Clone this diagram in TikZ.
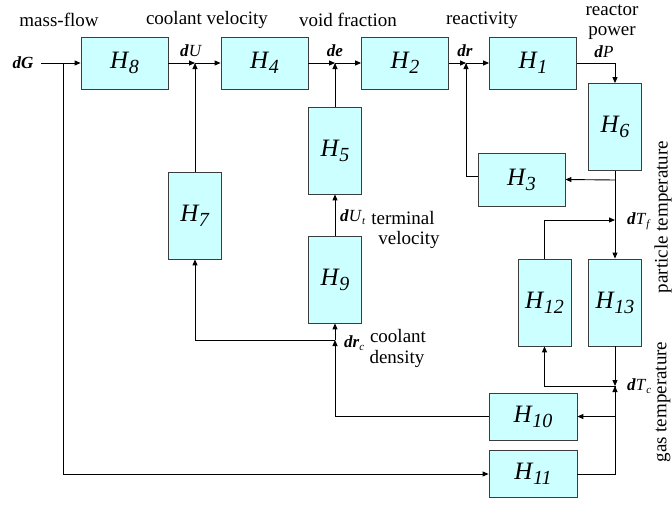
\documentclass[tikz,border=0pt]{standalone}
\usepackage{fontspec}
\setmainfont{Liberation Serif}
\usetikzlibrary{arrows.meta}
\definecolor{boxfill}{RGB}{204,255,255}
\definecolor{boxline}{RGB}{60,60,60}
\newcommand{\Hlab}[1]{{\fontsize{25}{25}\selectfont\textit{H}\kern-0.5pt\raisebox{-5pt}{\fontsize{20}{20}\selectfont\textit{#1}}}}
\newcommand{\bdv}[1]{\textbf{\textit{#1}}}
\newcommand{\subsm}[1]{\raisebox{-3pt}{\fontsize{11}{11}\selectfont\textit{#1}}}
\begin{document}
\begin{tikzpicture}[x=1pt,y=-1pt,
  blk/.style={draw=boxline,fill=boxfill,line width=0.8pt,inner sep=0pt},
  wide/.style={blk,minimum width=87pt,minimum height=52pt},
  tall/.style={blk,minimum width=53pt,minimum height=87pt},
  flat/.style={blk,minimum width=88pt,minimum height=47pt},
  arr/.style={line width=0.9pt,-{Triangle[length=6pt,width=5pt]}},
  ln/.style={line width=0.9pt},
  ann/.style={font=\fontsize{19}{19}\selectfont,inner sep=0pt},
  sig/.style={font=\fontsize{17}{17}\selectfont,inner sep=0pt}]
\useasboundingbox (0,0) rectangle (672,504);
% blocks
\node[wide] (H8) at (124.5,63) {\Hlab{8}};
\node[wide] (H4) at (264.5,63) {\Hlab{4}};
\node[wide] (H2) at (405,63) {\Hlab{2}};
\node[wide] (H1) at (533,63) {\Hlab{1}};
\node[tall] (H6) at (615,127) {\Hlab{6}};
\node[tall] (H5) at (335,150.5) {\Hlab{5}};
\node[tall] (H7) at (195,215.5) {\Hlab{7}};
\node[tall] (H9) at (335,279.5) {\Hlab{9}};
\node[wide,minimum height=53pt] (H3) at (521.5,179.5) {\Hlab{3}};
\node[tall] (H12) at (544.5,302.5) {\Hlab{12}};
\node[tall] (H13) at (615,302.5) {\Hlab{13}};
\node[flat] (H10) at (533,416.5) {\Hlab{10}};
\node[flat] (H11) at (533,474) {\Hlab{11}};
% junctions
\coordinate (dGs) at (41,63);
\coordinate (jG) at (63,63);
\coordinate (jU) at (195,63);
\coordinate (je) at (335,63);
\coordinate (jr) at (466,63);
\coordinate (jH3) at (615,180);
\coordinate (jTf) at (615,220);
\coordinate (jTc) at (615,386);
\coordinate (jrc) at (335,340);
% connectors
\draw[arr] (dGs) -- (H8.west);
\draw[arr] (jG) |- (H11.west);
\draw[arr] (H8.east) -- (jU);
\draw[arr] (jU) -- (H4.west);
\draw[arr] (H7.north) -- (jU);
\draw[arr] (H4.east) -- (je);
\draw[arr] (je) -- (H2.west);
\draw[arr] (H5.north) -- (je);
\draw[arr] (H2.east) -- (jr);
\draw[arr] (jr) -- (H1.west);
\draw[arr] ([yshift=3pt]H3.west) -| (jr);
\draw[arr] (H1.east) -| (H6.north);
\draw[ln] (H6.south) -- (jTf);
\draw[arr] (jH3) -- (H3.east);
\draw[arr] (jTf) -- (H13.north);
\draw[arr] (H12.north) |- (jTf);
\draw[arr] (H13.south) -- (jTc);
\draw[arr] (H11.east) -| (jTc);
\draw[arr] (jTc) -| (H12.south);
\draw[arr] (jTc) |- (H10.east);
\draw[arr] (H10.west) -| (jrc);
\draw[arr] (jrc) -- (H9.south);
\draw[arr] (jrc) -| (H7.south);
\draw[arr] (H9.north) -- (H5.south);
% annotations
\node[ann] (tmass) at (59,20) {mass-flow};
\node[ann] (tcool) at (207,20) {coolant velocity};
\node[ann] (tvoid) at (348,20) {void fraction};
\node[ann] (treac) at (482,20) {reactivity};
\node[ann] (treactor) at (612,10) {reactor};
\node[ann] (tpower) at (612,33) {power};
\node[ann] (tterm) at (403,218) {terminal};
\node[ann] (tvel) at (409,240) {velocity};
\node[ann] (tcoolant) at (398,336) {coolant};
\node[ann] (tdens) at (397,359) {density};
\node[ann,rotate=90] (tpart) at (663,217) {particle temperature};
\node[ann,rotate=90] (tgas) at (663,402) {gas temperature};
% signal labels
\node[sig] (lG) at (23,63) {\bdv{dG}};
\node[sig] (lU) at (191,51) {\bdv{d}\textit{U}};
\node[sig] (le) at (335,51) {\bdv{de}};
\node[sig] (lr) at (465,51) {\bdv{dr}};
\node[sig] (lP) at (604,52) {\bdv{d}\textit{P}};
\node[sig,anchor=west] (lUt) at (340,217) {\bdv{d}\textit{U}\subsm{t}};
\node[sig,anchor=west] (lrc) at (344,343) {\bdv{dr}\subsm{c}};
\node[sig,anchor=west] (lTf) at (627,221) {\bdv{d}\textit{T}\subsm{f}};
\node[sig,anchor=west] (lTc) at (627,386) {\bdv{d}\textit{T}\subsm{c}};
\end{tikzpicture}
\end{document}
